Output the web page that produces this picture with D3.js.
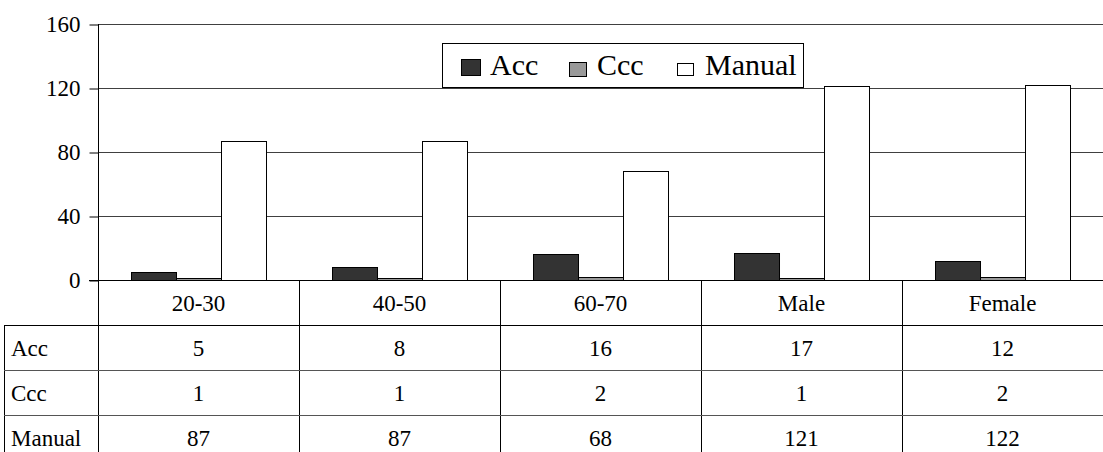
<!DOCTYPE html>
<html>
<head>
<meta charset="utf-8">
<script src="https://cdn.jsdelivr.net/npm/d3@7/dist/d3.min.js"></script>
<style>
  html, body { margin: 0; padding: 0; background: #fff; }
  svg, svg text { font-family: "Liberation Serif", "Times New Roman", Tinos, Times, "DejaVu Serif", serif !important; }
  svg { display: block; }
</style>
</head>
<body>
<svg id="chart" width="1103" height="452"></svg>
<script>
const categories = ["20-30", "40-50", "60-70", "Male", "Female"];
const seriesNames = ["Acc", "Ccc", "Manual"];
const accValues = [5, 8, 16, 17, 12];
const cccValues = [1, 1, 2, 1, 2];
const manualValues = [87, 87, 68, 121, 122];
const yTicks = [0, 40, 80, 120, 160];
const seriesColors = ["#333333", "#999999", "#ffffff"];

const seriesValues = [accValues, cccValues, manualValues];
const FONT = '"Liberation Serif", "Times New Roman", Tinos, Times, "DejaVu Serif", serif';

const W = 1103, H = 452;
const plotLeft = 98, plotRight = 1103, plotTop = 24, plotBottom = 280;
const rowH = 45;
const tableLeft = 4;

const svg = d3.select("#chart");

const x = d3.scaleBand().domain(categories).range([plotLeft, plotRight]).paddingInner(0).paddingOuter(0);
const xs = d3.scaleBand().domain(seriesNames).range([0, x.bandwidth()]).paddingInner(0).paddingOuter(0.733);
const y = d3.scaleLinear().domain([0, 160]).range([plotBottom, plotTop]);
const color = d3.scaleOrdinal().domain(seriesNames).range(seriesColors);

// gridlines
svg.append("g").selectAll("line").data(yTicks).join("line")
  .attr("x1", plotLeft).attr("x2", plotRight)
  .attr("y1", d => Math.round(y(d)) + 0.5).attr("y2", d => Math.round(y(d)) + 0.5)
  .attr("stroke", "#404040").attr("stroke-width", 1);

// y axis
const yAxis = d3.axisLeft(y).tickValues(yTicks).tickSize(9).tickPadding(9);
const ga = svg.append("g").attr("transform", `translate(${plotLeft + 0.5},0.5)`).call(yAxis);
ga.attr("font-family", FONT).attr("font-size", 23);
ga.select(".domain").remove();
ga.selectAll(".tick line").attr("stroke", "#000");
ga.selectAll(".tick text").attr("font-family", FONT).attr("font-size", 23).attr("fill", "#000");

// bars
const data = [];
categories.forEach((c, i) => seriesNames.forEach((s, j) => data.push({ c, s, v: seriesValues[j][i] })));
svg.append("g").selectAll("rect").data(data).join("rect")
  .attr("x", d => Math.round(x(d.c) + xs(d.s)) + 0.5)
  .attr("y", d => Math.round(y(d.v)) + 0.5)
  .attr("width", xs.bandwidth())
  .attr("height", d => Math.max(0, Math.round(y(0)) - Math.round(y(d.v))))
  .attr("fill", d => color(d.s))
  .attr("stroke", "#000").attr("stroke-width", 1);

// baseline & vertical axis line
svg.append("line").attr("x1", plotLeft - 9).attr("x2", plotRight)
  .attr("y1", plotBottom + 0.5).attr("y2", plotBottom + 0.5).attr("stroke", "#000");
svg.append("line").attr("x1", plotLeft + 0.5).attr("x2", plotLeft + 0.5)
  .attr("y1", plotTop).attr("y2", H).attr("stroke", "#000");

// data table
const tableTop = plotBottom + rowH;
svg.append("g").selectAll("line").data(categories.slice(1)).join("line")
  .attr("x1", d => Math.round(x(d)) + 0.5).attr("x2", d => Math.round(x(d)) + 0.5)
  .attr("y1", plotBottom).attr("y2", H).attr("stroke", "#000");
svg.append("line").attr("x1", tableLeft + 0.5).attr("x2", tableLeft + 0.5)
  .attr("y1", tableTop).attr("y2", H).attr("stroke", "#000");
svg.append("g").selectAll("line").data(seriesNames).join("line")
  .attr("x1", tableLeft).attr("x2", plotRight)
  .attr("y1", (d, i) => tableTop + i * rowH + 0.5).attr("y2", (d, i) => tableTop + i * rowH + 0.5)
  .attr("stroke", (d, i) => i === 0 ? "#000" : "#555");

const T = svg.append("g").attr("font-family", FONT).attr("font-size", 23).attr("fill", "#000");

T.append("g").selectAll("text").data(categories).join("text")
  .attr("x", d => x(d) + x.bandwidth() / 2)
  .attr("y", plotBottom + rowH / 2)
  .attr("dy", "0.35em")
  .attr("text-anchor", "middle").attr("font-family", FONT).text(d => d);

seriesNames.forEach((s, j) => {
  const cy = tableTop + j * rowH + rowH / 2;
  T.append("text").attr("x", tableLeft + 7).attr("y", cy).attr("dy", "0.35em")
    .attr("font-family", FONT).text(s);
  T.append("g").selectAll("text").data(seriesValues[j]).join("text")
    .attr("x", (d, i) => x(categories[i]) + x.bandwidth() / 2)
    .attr("y", cy).attr("dy", "0.35em")
    .attr("text-anchor", "middle").attr("font-family", FONT).text(d => d);
});

// legend
const lg = svg.append("g");
lg.append("rect").attr("x", 442.5).attr("y", 43.5).attr("width", 361).attr("height", 44)
  .attr("fill", "#fff").attr("stroke", "#000");
const legendItems = [
  { s: "Acc", sx: 461, sy: 59, sw: 19, sh: 16, tx: 490 },
  { s: "Ccc", sx: 569, sy: 62, sw: 17, sh: 14, tx: 597 },
  { s: "Manual", sx: 677, sy: 63, sw: 16, sh: 12, tx: 705 }
];
legendItems.forEach(it => {
  lg.append("rect").attr("x", it.sx + 0.5).attr("y", it.sy + 0.5).attr("width", it.sw).attr("height", it.sh)
    .attr("fill", color(it.s)).attr("stroke", "#000");
  lg.append("text").attr("x", it.tx).attr("y", 75).attr("font-family", FONT).attr("font-size", 30).text(it.s);
});
</script>
</body>
</html>
